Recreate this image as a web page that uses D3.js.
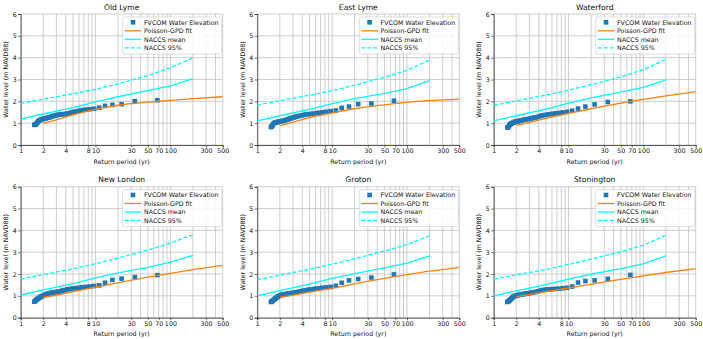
<!DOCTYPE html>
<html><head><meta charset="utf-8">
<script src="https://cdn.jsdelivr.net/npm/d3@7"></script>
<style>
html,body{margin:0;padding:0;background:#fff;}
svg{display:block;font-family:"DejaVu Sans",sans-serif;}
</style></head>
<body><svg id="c" width="703" height="339"></svg>
<script>
// ---- data ----
const sites = ["Old Lyme", "East Lyme", "Waterford", "New London", "Groton", "Stonington"];
const xTickLabels = [1, 2, 4, 8, 10, 30, 50, 70, 100, 300, 500];
const xGrid = [1,2,3,4,5,6,7,8,9,10,20,30,40,50,60,70,80,90,100,200,300,400,500];
const yTicks = [0, 1, 2, 3, 4, 5, 6];

// FVCOM ranked return periods (yr)
const fvcomT = [67, 33.5, 22.3, 16.8, 13.4, 11.2, 9.57, 8.38, 7.44, 6.7, 6.09, 5.58, 5.15, 4.79, 4.47, 4.19, 3.94, 3.72, 3.53, 3.35, 3.19, 3.05, 2.91, 2.79, 2.68, 2.58, 2.48, 2.39, 2.31, 2.23, 2.16, 2.09, 2.03, 1.97, 1.91, 1.86, 1.81, 1.76, 1.72, 1.68, 1.63, 1.60, 1.56, 1.52];
const fvcomOldLyme   = [2.05, 2.01, 1.87, 1.84, 1.79, 1.71, 1.66, 1.64, 1.62, 1.60, 1.57, 1.54, 1.52, 1.49, 1.46, 1.44, 1.42, 1.41, 1.40, 1.39, 1.38, 1.37, 1.35, 1.34, 1.32, 1.30, 1.28, 1.26, 1.25, 1.24, 1.22, 1.21, 1.20, 1.19, 1.17, 1.16, 1.14, 1.12, 1.09, 1.04, 0.98, 0.95, 0.93, 0.92];
const fvcomEastLyme  = [2.03, 1.90, 1.87, 1.76, 1.70, 1.58, 1.55, 1.52, 1.50, 1.48, 1.46, 1.44, 1.42, 1.41, 1.40, 1.38, 1.36, 1.34, 1.32, 1.30, 1.28, 1.26, 1.24, 1.22, 1.20, 1.18, 1.16, 1.14, 1.12, 1.11, 1.10, 1.09, 1.08, 1.07, 1.06, 1.05, 1.04, 1.03, 1.02, 1.00, 0.96, 0.90, 0.85, 0.82];
const fvcomWaterford = [2.00, 1.97, 1.86, 1.76, 1.67, 1.57, 1.52, 1.49, 1.47, 1.45, 1.43, 1.41, 1.39, 1.37, 1.35, 1.33, 1.29, 1.27, 1.26, 1.24, 1.22, 1.20, 1.19, 1.18, 1.17, 1.16, 1.15, 1.13, 1.12, 1.11, 1.10, 1.09, 1.08, 1.07, 1.06, 1.04, 1.02, 1.00, 0.98, 0.96, 0.93, 0.87, 0.82, 0.80];
const fvcomNewLondon = [1.95, 1.86, 1.79, 1.73, 1.60, 1.48, 1.45, 1.43, 1.41, 1.39, 1.37, 1.36, 1.34, 1.33, 1.31, 1.30, 1.27, 1.25, 1.23, 1.21, 1.19, 1.18, 1.17, 1.16, 1.15, 1.14, 1.13, 1.11, 1.10, 1.08, 1.06, 1.04, 1.02, 1.00, 0.98, 0.96, 0.94, 0.91, 0.88, 0.86, 0.83, 0.80, 0.76, 0.73];
const fvcomGroton    = [1.98, 1.84, 1.77, 1.71, 1.60, 1.46, 1.41, 1.39, 1.37, 1.35, 1.33, 1.31, 1.29, 1.28, 1.26, 1.24, 1.22, 1.20, 1.18, 1.16, 1.15, 1.14, 1.13, 1.12, 1.11, 1.10, 1.09, 1.08, 1.07, 1.06, 1.05, 1.04, 1.02, 1.00, 0.98, 0.95, 0.92, 0.89, 0.86, 0.83, 0.80, 0.77, 0.74, 0.72];
const fvcomStonington= [1.96, 1.78, 1.71, 1.68, 1.61, 1.43, 1.37, 1.35, 1.33, 1.32, 1.31, 1.30, 1.29, 1.28, 1.26, 1.24, 1.21, 1.19, 1.17, 1.15, 1.14, 1.13, 1.12, 1.11, 1.10, 1.09, 1.08, 1.07, 1.06, 1.05, 1.04, 1.03, 1.02, 1.01, 1.00, 0.98, 0.95, 0.91, 0.87, 0.84, 0.80, 0.77, 0.74, 0.72];

// Poisson-GPD fit
const gpdT = [2, 3, 5, 10, 20, 50, 100, 200, 500];
const gpdOldLyme   = [0.99, 1.15, 1.38, 1.63, 1.82, 1.96, 2.04, 2.12, 2.21];
const gpdEastLyme  = [0.88, 1.05, 1.25, 1.47, 1.66, 1.84, 1.95, 2.03, 2.10];
const gpdWaterford = [0.90, 1.04, 1.22, 1.45, 1.66, 1.92, 2.09, 2.25, 2.44];
const gpdNewLondon = [0.93, 1.04, 1.20, 1.40, 1.60, 1.86, 2.03, 2.20, 2.40];
const gpdGroton    = [0.93, 1.03, 1.17, 1.35, 1.55, 1.80, 1.97, 2.13, 2.31];
const gpdStonington= [0.97, 1.06, 1.19, 1.36, 1.53, 1.76, 1.92, 2.07, 2.25];

// NACCS
const naccsT = [1, 2, 5, 10, 20, 50, 100, 200];
const meanOldLyme   = [1.19, 1.42, 1.71, 1.97, 2.21, 2.49, 2.71, 3.04];
const meanEastLyme  = [1.10, 1.34, 1.63, 1.89, 2.12, 2.36, 2.58, 2.95];
const meanWaterford = [1.10, 1.34, 1.64, 1.92, 2.16, 2.42, 2.64, 2.98];
const meanNewLondon = [1.04, 1.27, 1.56, 1.82, 2.05, 2.31, 2.54, 2.85];
const meanGroton    = [1.00, 1.24, 1.54, 1.80, 2.02, 2.28, 2.50, 2.83];
const meanStonington= [1.00, 1.23, 1.52, 1.77, 1.99, 2.25, 2.47, 2.83];
const p95OldLyme    = [1.91, 2.10, 2.35, 2.55, 2.80, 3.18, 3.54, 3.98];
const p95EastLyme   = [1.83, 2.03, 2.28, 2.49, 2.74, 3.10, 3.42, 3.89];
const p95Waterford  = [1.82, 2.02, 2.29, 2.51, 2.76, 3.12, 3.45, 3.92];
const p95NewLondon  = [1.77, 1.97, 2.24, 2.47, 2.73, 3.10, 3.42, 3.80];
const p95Groton     = [1.74, 1.95, 2.22, 2.45, 2.70, 3.05, 3.35, 3.75];
const p95Stonington = [1.77, 1.96, 2.21, 2.44, 2.68, 3.02, 3.32, 3.78];

const legendLabels = ["FVCOM Water Elevation", "Poisson-GPD fit", "NACCS mean", "NACCS 95%"];

const fvcomAll = [fvcomOldLyme, fvcomEastLyme, fvcomWaterford, fvcomNewLondon, fvcomGroton, fvcomStonington];
const gpdAll = [gpdOldLyme, gpdEastLyme, gpdWaterford, gpdNewLondon, gpdGroton, gpdStonington];
const meanAll = [meanOldLyme, meanEastLyme, meanWaterford, meanNewLondon, meanGroton, meanStonington];
const p95All = [p95OldLyme, p95EastLyme, p95Waterford, p95NewLondon, p95Groton, p95Stonington];

// ---- layout ----
const svg = d3.select("#c");
const W = 202, H = 131;
const lefts = [20.7, 257.3, 493.7];
const tops = [14, 186.7];
const BLUE = "#1f77b4", ORANGE = "#ff7f0e", CYAN = "#00ffff";
const FS = 6.3;

sites.forEach((name, i) => {
  const col = i % 3, row = Math.floor(i / 3);
  const g = svg.append("g").attr("transform", `translate(${lefts[col]},${tops[row]})`);
  const x = d3.scaleLog().domain([1, 500]).range([0, W]);
  const y = d3.scaleLinear().domain([0, 6]).range([H, 0]);

  // grid
  g.append("g").selectAll("line").data(xGrid).join("line")
    .attr("x1", d => x(d)).attr("x2", d => x(d)).attr("y1", 0).attr("y2", H)
    .attr("stroke", "#c2c2c2").attr("stroke-width", 0.8);
  g.append("g").selectAll("line").data(yTicks).join("line")
    .attr("y1", d => y(d)).attr("y2", d => y(d)).attr("x1", 0).attr("x2", W)
    .attr("stroke", "#c2c2c2").attr("stroke-width", 0.8);

  // axes
  const xa = g.append("g").attr("transform", `translate(0,${H})`)
    .call(d3.axisBottom(x).tickValues(xTickLabels).tickFormat(d3.format("d")).tickSize(2.5).tickPadding(1.5));
  const ya = g.append("g")
    .call(d3.axisLeft(y).tickValues(yTicks).tickFormat(d3.format("d")).tickSize(2.5).tickPadding(1.5));
  [xa, ya].forEach(a => {
    a.select(".domain").attr("stroke", "#333").attr("stroke-width", 0.8);
    a.selectAll(".tick line").attr("stroke", "#333").attr("stroke-width", 0.7);
    a.selectAll(".tick text").attr("font-size", FS).attr("fill", "#111").attr("font-family", "DejaVu Sans");
  });

  const clip = "clip" + i;
  g.append("clipPath").attr("id", clip).append("rect").attr("width", W).attr("height", H);
  const pg = g.append("g").attr("clip-path", `url(#${clip})`);

  const line = d3.line().x(d => x(d[0])).y(d => y(d[1]));
  const smooth = d3.line().x(d => x(d[0])).y(d => y(d[1])).curve(d3.curveMonotoneX);

  pg.append("path").datum(naccsT.map((t, j) => [t, p95All[i][j]]))
    .attr("d", line).attr("fill", "none").attr("stroke", CYAN).attr("stroke-width", 1.3)
    .attr("stroke-dasharray", "4,2");
  pg.append("path").datum(naccsT.map((t, j) => [t, meanAll[i][j]]))
    .attr("d", line).attr("fill", "none").attr("stroke", CYAN).attr("stroke-width", 1.3);

  const ms = 4.6;
  pg.append("g").selectAll("rect").data(fvcomT.map((t, j) => [t, fvcomAll[i][j]])).join("rect")
    .attr("x", d => x(d[0]) - ms / 2).attr("y", d => y(d[1]) - ms / 2)
    .attr("width", ms).attr("height", ms).attr("fill", BLUE);

  pg.append("path").datum(gpdT.map((t, j) => [t, gpdAll[i][j]]))
    .attr("d", smooth).attr("fill", "none").attr("stroke", ORANGE).attr("stroke-width", 1.3);

  // title & labels
  g.append("text").attr("x", W / 2).attr("y", -4.3).attr("text-anchor", "middle")
    .attr("font-size", 7.6).attr("fill", "#111").text(name);
  g.append("text").attr("x", W / 2).attr("y", H + 18.5).attr("text-anchor", "middle")
    .attr("font-size", FS).attr("fill", "#111").text("Return period (yr)");
  g.append("text").attr("transform", `translate(${-12.5},${H / 2}) rotate(-90)`)
    .attr("text-anchor", "middle").attr("font-size", FS).attr("fill", "#111")
    .text("Water level (m NAVD88)");

  // legend
  const lw = 99, lh = 37;
  const lg = g.append("g").attr("transform", `translate(${W - lw - 1},${3})`);
  lg.append("rect").attr("width", lw).attr("height", lh).attr("rx", 1.5)
    .attr("fill", "#fff").attr("fill-opacity", 0.85).attr("stroke", "#cfcfcf").attr("stroke-width", 0.7);
  legendLabels.forEach((lab, k) => {
    const yy = 5.3 + k * 8.5;
    if (k === 0) {
      lg.append("rect").attr("x", 10.3 - ms / 2).attr("y", yy - ms / 2).attr("width", ms).attr("height", ms).attr("fill", BLUE);
    } else {
      lg.append("line").attr("x1", 2).attr("x2", 18.7).attr("y1", yy).attr("y2", yy)
        .attr("stroke", k === 1 ? ORANGE : CYAN).attr("stroke-width", 1.3)
        .attr("stroke-dasharray", k === 3 ? "4,2" : null);
    }
    lg.append("text").attr("x", 21.3).attr("y", yy).attr("dy", "0.35em")
      .attr("font-size", FS).attr("fill", "#111").text(lab);
  });
});
</script>
</body></html>
